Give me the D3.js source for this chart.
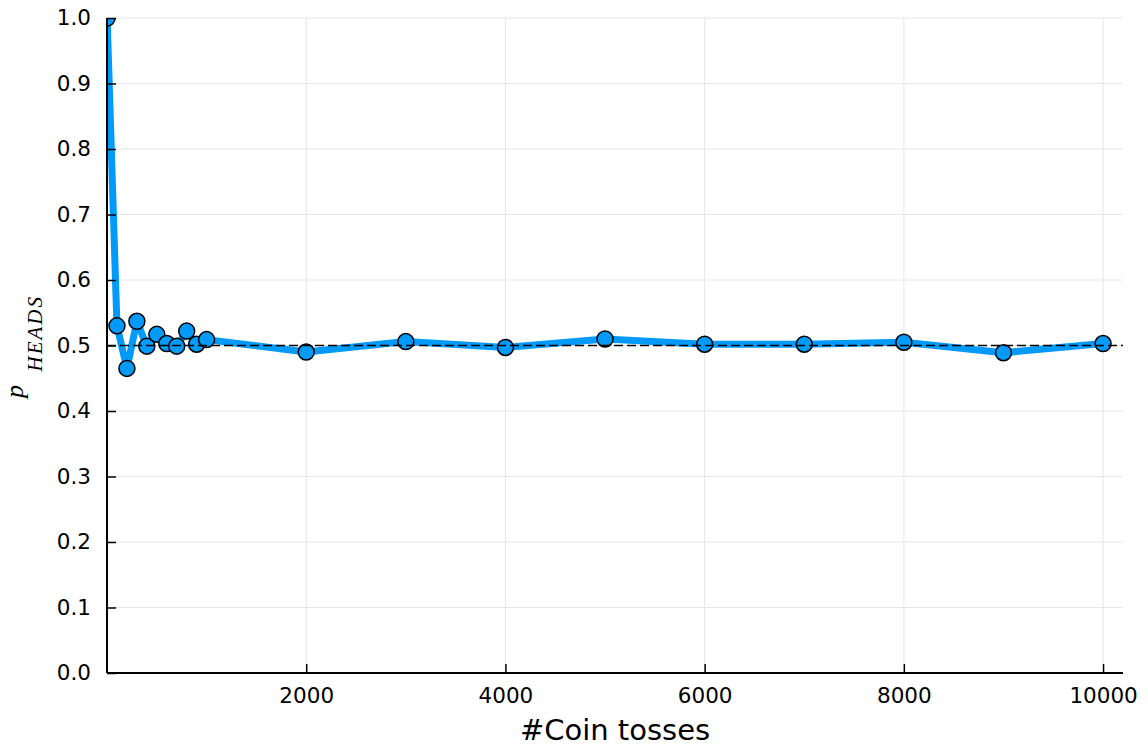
<!DOCTYPE html>
<html>
<head>
<meta charset="utf-8">
<script src="https://cdn.jsdelivr.net/npm/d3@7"></script>
<style>
  html, body { margin: 0; padding: 0; background: #fff; }
  svg { display: block; }
</style>
</head>
<body>
<svg id="chart" width="1148" height="747"></svg>
<script>
// Number of coin tosses at which the running proportion of heads was recorded
const tosses = [1, 100, 200, 300, 400, 500, 600, 700, 800, 900, 1000,
                2000, 3000, 4000, 5000, 6000, 7000, 8000, 9000, 10000];
// Proportion of heads observed after each number of tosses
const pHeads = [1.0, 0.530, 0.465, 0.537, 0.499, 0.517, 0.503, 0.499, 0.522, 0.502, 0.509,
                0.490, 0.506, 0.497, 0.510, 0.502, 0.502, 0.505, 0.489, 0.503];
// Theoretical probability of a fair coin
const expected = 0.5;
const xTicks = [2000, 4000, 6000, 8000, 10000];
const yTicks = [0.0, 0.1, 0.2, 0.3, 0.4, 0.5, 0.6, 0.7, 0.8, 0.9, 1.0];

const svg = d3.select("#chart");
const plotL = 107, plotR = 1123, plotT = 18, plotB = 673;
const blue = "#009AFA";
const font = "'DejaVu Sans', sans-serif";

const x = d3.scaleLinear().domain([0, 10200]).range([plotL, plotR]);
const y = d3.scaleLinear().domain([0, 1]).range([plotB, plotT]);

// grid
const grid = svg.append("g").attr("stroke", "#e6e6e6").attr("stroke-width", 1);
grid.selectAll("line.gx").data(xTicks).join("line")
  .attr("x1", d => x(d)).attr("x2", d => x(d))
  .attr("y1", plotT).attr("y2", plotB);
grid.selectAll("line.gy").data(yTicks).join("line")
  .attr("x1", plotL).attr("x2", plotR)
  .attr("y1", d => y(d)).attr("y2", d => y(d));

// clip region of the plotting area
svg.append("clipPath").attr("id", "plotclip")
  .append("rect").attr("x", plotL).attr("y", plotT)
  .attr("width", plotR - plotL).attr("height", plotB - plotT);

const plot = svg.append("g").attr("clip-path", "url(#plotclip)");

const line = d3.line().x((d, i) => x(tosses[i])).y(d => y(d));
plot.append("path").datum(pHeads)
  .attr("d", line)
  .attr("fill", "none")
  .attr("stroke", blue)
  .attr("stroke-width", 7)
  .attr("stroke-linejoin", "round");

plot.selectAll("circle").data(pHeads).join("circle")
  .attr("cx", (d, i) => x(tosses[i]))
  .attr("cy", d => y(d))
  .attr("r", 8)
  .attr("fill", blue)
  .attr("stroke", "#000")
  .attr("stroke-width", 1.5);

// reference line at p = 0.5
plot.append("line")
  .attr("x1", plotL).attr("x2", plotR)
  .attr("y1", y(expected)).attr("y2", y(expected))
  .attr("stroke", "#000").attr("stroke-width", 1.6)
  .attr("stroke-dasharray", "9,4");

// axes (ticks point into the plot)
const xAxis = d3.axisBottom(x).tickValues(xTicks).tickSizeInner(-9).tickSizeOuter(0)
  .tickPadding(15).tickFormat(d3.format("d"));
const gx = svg.append("g").attr("transform", `translate(0,${plotB})`).call(xAxis);
gx.select(".domain").attr("stroke-width", 2).attr("d", `M${plotL},0H${plotR}`);
gx.selectAll(".tick line").attr("stroke-width", 1.5);
gx.selectAll("text").attr("font-family", font).attr("font-size", 21.5).attr("fill", "#000");

const yAxis = d3.axisLeft(y).tickValues(yTicks).tickSizeInner(-9).tickSizeOuter(0)
  .tickPadding(16).tickFormat(d3.format(".1f"));
const gy = svg.append("g").attr("transform", `translate(${plotL},0)`).call(yAxis);
gy.select(".domain").attr("stroke-width", 2).attr("d", `M0,${plotB}V${plotT}`);
gy.selectAll(".tick line").attr("stroke-width", 1.5);
gy.selectAll("text").attr("font-family", font).attr("font-size", 21.5).attr("fill", "#000");

// axis titles
svg.append("text")
  .attr("x", 615).attr("y", 740)
  .attr("text-anchor", "middle")
  .attr("font-family", font).attr("font-size", 29)
  .text("#Coin tosses");

const ylab = svg.append("g").attr("transform", "rotate(-90)");
ylab.append("text")
  .attr("x", -398).attr("y", 23)
  .attr("font-family", "'Liberation Serif', serif").attr("font-style", "italic")
  .attr("font-size", 26)
  .text("p");
ylab.append("text")
  .attr("x", -371.5).attr("y", 41.5)
  .attr("font-family", "'Liberation Serif', serif").attr("font-style", "italic")
  .attr("font-size", 21)
  .attr("textLength", 74.5)
  .text("HEADS");
</script>
</body>
</html>
